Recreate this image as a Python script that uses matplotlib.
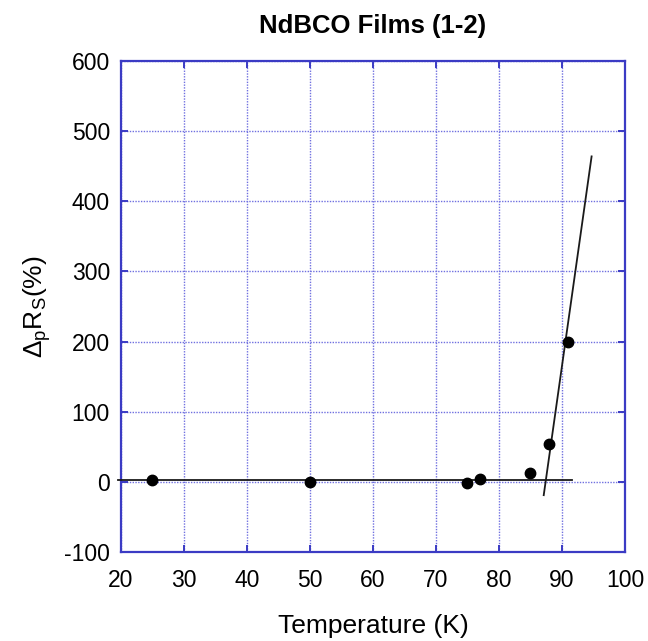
import matplotlib
matplotlib.use("Agg")
import matplotlib.pyplot as plt

# Measured surface-resistance change vs temperature
temperature = [25, 50, 75, 77, 85, 88, 91]
delta_rs = [2, 0, -1, 4, 12, 54, 200]

# Guide lines: flat baseline and steep rise near Tc
base_t = [19.6, 91.6]
base_v = [2, 2]
rise_t = [87.1, 94.7]
rise_v = [-19, 464]

xticks = [20, 30, 40, 50, 60, 70, 80, 90, 100]
yticks = [-100, 0, 100, 200, 300, 400, 500, 600]

plt.rcParams['font.family'] = ['Liberation Sans', 'DejaVu Sans']
plt.rcParams['axes.unicode_minus'] = False

fig = plt.figure(figsize=(6.48, 6.41), dpi=100)
ax = fig.add_axes([0.1867, 0.1389, 0.7778, 0.7659])

blue = '#3b3bc4'
ax.set_xlim(20, 100)
ax.set_ylim(-100, 600)
ax.set_xticks(xticks)
ax.set_yticks(yticks)
ax.grid(True, color='#7070e0', linestyle=(0, (1, 1)), linewidth=1.0)
ax.set_axisbelow(True)

for s in ax.spines.values():
    s.set_color(blue)
    s.set_linewidth(1.6)
ax.tick_params(direction='in', length=5, width=1.4, color=blue,
               labelsize=16.5, top=True, right=True)
ax.tick_params(axis='x', pad=12)
ax.tick_params(axis='y', pad=8)

ax.plot(base_t, base_v, color='#1a1a1a', linewidth=1.3, clip_on=False, zorder=3)
ax.plot(rise_t, rise_v, color='#1a1a1a', linewidth=1.3, zorder=3)
ax.plot(temperature, delta_rs, 'o', color='black', markersize=7.5, zorder=4)

ax.set_title('NdBCO Films (1-2)', fontsize=18.5, fontweight='bold', pad=20)
ax.set_xlabel('Temperature (K)', fontsize=19, labelpad=16)
ax.set_ylabel(r'$\mathregular{\Delta_p R_S}$(%)', fontsize=19, labelpad=8)

fig.savefig('out.png', dpi=100)
